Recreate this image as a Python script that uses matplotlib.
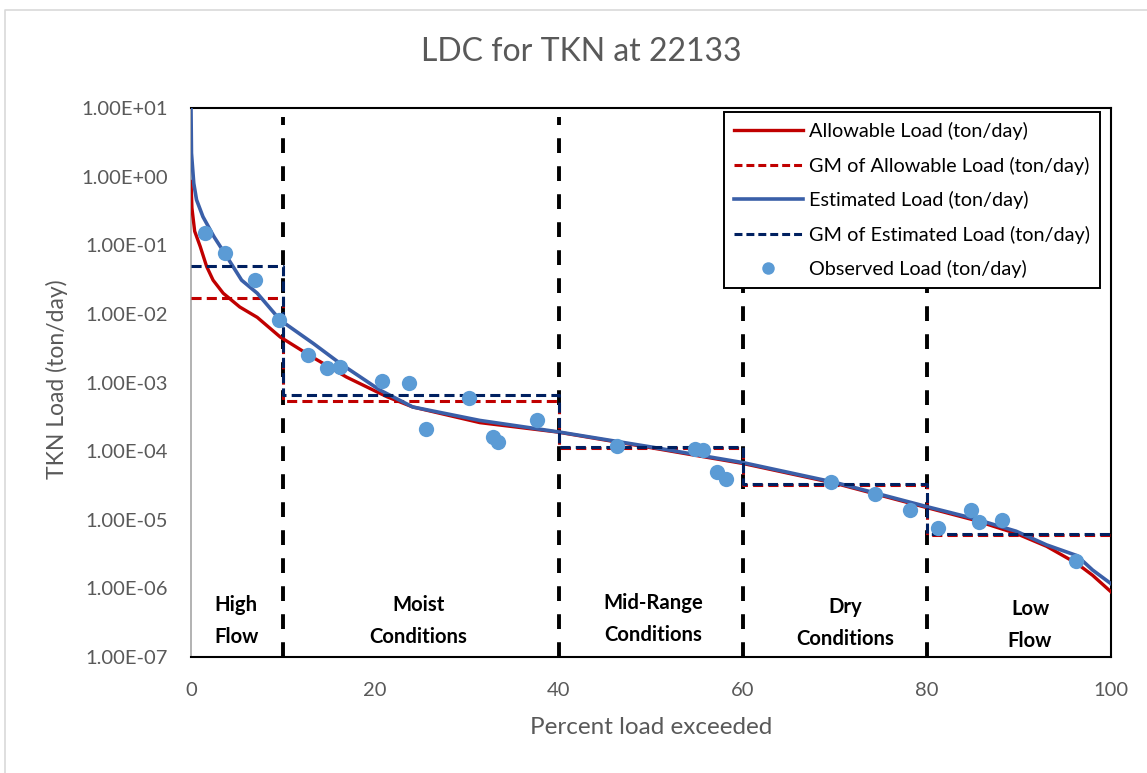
import matplotlib
matplotlib.use("Agg")
import matplotlib.pyplot as plt
from matplotlib.lines import Line2D
import numpy as np

plt.rcParams['font.family'] = ['Lato', 'DejaVu Sans']

# ---------------- data ----------------
title = "LDC for TKN at 22133"
xlabel = "Percent load exceeded"
ylabel = "TKN Load (ton/day)"

est_x = [0, 0.05, 0.3, 0.6, 1.3, 2.5, 3.9, 5.5, 7.2, 9.7, 13.3, 16.2, 20.5,
         24.1, 31.4, 40, 50, 60, 70, 80, 85, 89.7, 93, 96.3, 98, 100]
est_y = [10, 2.2, 0.8, 0.46, 0.26, 0.133, 0.068, 0.031, 0.020, 0.0081,
         0.0037, 0.0019, 7.8e-4, 4.4e-4, 2.8e-4, 1.9e-4, 1.15e-4, 6.8e-5,
         3.5e-5, 1.55e-5, 1.05e-5, 6.8e-6, 4.3e-6, 3.0e-6, 1.85e-6, 1.17e-6]

allow_x = [0, 0.1, 0.4, 1.0, 1.7, 2.4, 3.5, 5.3, 7.2, 9.7, 13.3, 16.9, 21.3,
           24.1, 31.4, 39.8, 50, 60, 70, 80, 85, 89.7, 93, 96.3, 98, 100]
allow_y = [0.85, 0.35, 0.16, 0.096, 0.049, 0.031, 0.020, 0.0126, 0.0089,
           0.0046, 0.0023, 0.0012, 6.2e-4, 4.4e-4, 2.6e-4, 1.9e-4, 1.12e-4,
           6.6e-5, 3.4e-5, 1.5e-5, 1.0e-5, 6.3e-6, 4.1e-6, 2.3e-6, 1.55e-6,
           8.9e-7]

zone_edges = [0, 10, 40, 60, 80, 100]
gm_est = [0.050, 6.5e-4, 1.14e-4, 3.3e-5, 6.3e-6]
gm_allow = [0.0172, 5.3e-4, 1.10e-4, 3.25e-5, 6.0e-6]

obs_x = [1.5, 3.7, 7.0, 9.6, 12.7, 14.8, 16.2, 20.8, 23.7, 25.5, 30.2, 32.8,
         33.4, 37.6, 46.3, 54.8, 55.6, 57.2, 58.1, 69.6, 74.3, 78.1, 81.2,
         84.8, 85.7, 88.1, 96.2]
obs_y = [0.15, 0.077, 0.031, 0.0081, 0.0025, 0.0016, 0.0017, 0.00105,
         0.00098, 0.00021, 0.00059, 0.00016, 0.000135, 0.00028, 0.000118,
         0.000107, 0.000105, 4.9e-5, 3.9e-5, 3.5e-5, 2.4e-5, 1.38e-5, 7.6e-6,
         1.4e-5, 9.3e-6, 1.0e-5, 2.5e-6]

zone_lines = [10, 40, 60, 80]
zone_labels = ["High\nFlow", "Moist\nConditions", "Mid-Range\nConditions",
               "Dry\nConditions", "Low\nFlow"]
zone_label_x = [4.9, 24.7, 50.2, 71.1, 91.2]
zone_label_yfrac = [0.0656, 0.0656, 0.069, 0.062, 0.058]

xticks = [0, 20, 40, 60, 80, 100]
yticks = [1e-7, 1e-6, 1e-5, 1e-4, 1e-3, 1e-2, 1e-1, 1e0, 1e1]
ytick_labels = ["1.00E-07", "1.00E-06", "1.00E-05", "1.00E-04", "1.00E-03",
                "1.00E-02", "1.00E-01", "1.00E+00", "1.00E+01"]

legend_labels = ["Allowable Load (ton/day)", "GM of Allowable Load (ton/day)",
                 "Estimated Load (ton/day)", "GM of Estimated Load (ton/day)",
                 "Observed Load (ton/day)"]

# ---------------- styles ----------------
RED = "#C00000"
BLUE = "#3A5FA8"
NAVY = "#002060"
DOT = "#5B9BD5"
GRAY = "#595959"

W, H = 1147, 773
fig = plt.figure(figsize=(W / 100, H / 100), dpi=100)
ax = fig.add_axes([191 / W, 1 - 657 / H, (1111 - 191) / W, (657 - 108) / H])


def step_xy(edges, vals):
    xs, ys = [], []
    for i, v in enumerate(vals):
        xs += [edges[i], edges[i + 1]]
        ys += [v, v]
    return xs, ys


# zone boundaries
for zx in zone_lines:
    ax.plot([zx, zx], [1e-7, 7.5], color="black", lw=2.8,
            dashes=(3.8, 3.4), zorder=2, solid_capstyle="butt")

ax.plot(allow_x, allow_y, color=RED, lw=2.4, zorder=3)
gx, gy = step_xy(zone_edges, gm_allow)
ax.plot(gx, gy, color=RED, lw=2.2, dashes=(3.3, 1.7), zorder=3)
ax.plot(est_x, est_y, color=BLUE, lw=2.6, zorder=4)
gx, gy = step_xy(zone_edges, gm_est)
ax.plot(gx, gy, color=NAVY, lw=2.2, dashes=(3.3, 1.7), zorder=4)
ax.plot(obs_x, obs_y, linestyle="none", marker="o", ms=11, color=DOT,
        markeredgewidth=0, zorder=5)

ax.set_yscale("log")
ax.set_xlim(0, 100)
ax.set_ylim(1e-7, 1e1)
ax.set_xticks(xticks)
ax.set_xticklabels([str(t) for t in xticks])
ax.set_yticks(yticks)
ax.set_yticklabels(ytick_labels)
ax.minorticks_off()
ax.tick_params(length=0, labelsize=14.5, labelcolor=GRAY)
ax.tick_params(axis="y", pad=16.5)
ax.tick_params(axis="x", pad=18)

for s in ["top", "right", "bottom"]:
    ax.spines[s].set_color("black")
    ax.spines[s].set_linewidth(1.5)
ax.spines["left"].set_color("#A6A6A6")
ax.spines["left"].set_linewidth(1.2)

for lab, lx, ly in zip(zone_labels, zone_label_x, zone_label_yfrac):
    ax.text(lx, ly, lab, transform=ax.get_xaxis_transform(),
            ha="center", va="center", fontsize=14.6, fontweight="bold",
            linespacing=1.75, color="black", zorder=6)

fig.text(581 / W, 1 - 52 / H, title, ha="center", va="center",
         fontsize=23, color=GRAY)
fig.text(651 / W, 1 - 728 / H, xlabel, ha="center", va="center",
         fontsize=17.5, color=GRAY)
fig.text(57 / W, 1 - 379 / H, ylabel, ha="center", va="center",
         rotation=90, fontsize=16.5, color=GRAY)

handles = [
    Line2D([], [], color=RED, lw=2.4),
    Line2D([], [], color=RED, lw=2.2, dashes=(2.6, 1.3)),
    Line2D([], [], color=BLUE, lw=2.6),
    Line2D([], [], color=NAVY, lw=2.2, dashes=(2.6, 1.3)),
    Line2D([], [], linestyle="none", marker="o", ms=9, color=DOT,
           markeredgewidth=0),
]
leg = ax.legend(handles, legend_labels, loc="upper right",
                bbox_to_anchor=((1100 - 191) / 920, (657 - 112) / 549),
                borderaxespad=0, fancybox=False, framealpha=1,
                fontsize=14.3, handlelength=3.5, handletextpad=0.3,
                labelspacing=0.83, borderpad=0.5)
leg.get_frame().set_edgecolor("black")
leg.get_frame().set_linewidth(1.4)
leg.set_zorder(10)

# chart-area border
fig.add_artist(Line2D([5 / W, 5 / W, 1.0],
                      [0, 1 - 10 / H, 1 - 10 / H],
                      color="#D9D9D9", lw=1.2, transform=fig.transFigure))

fig.savefig("out.png", dpi=100)
